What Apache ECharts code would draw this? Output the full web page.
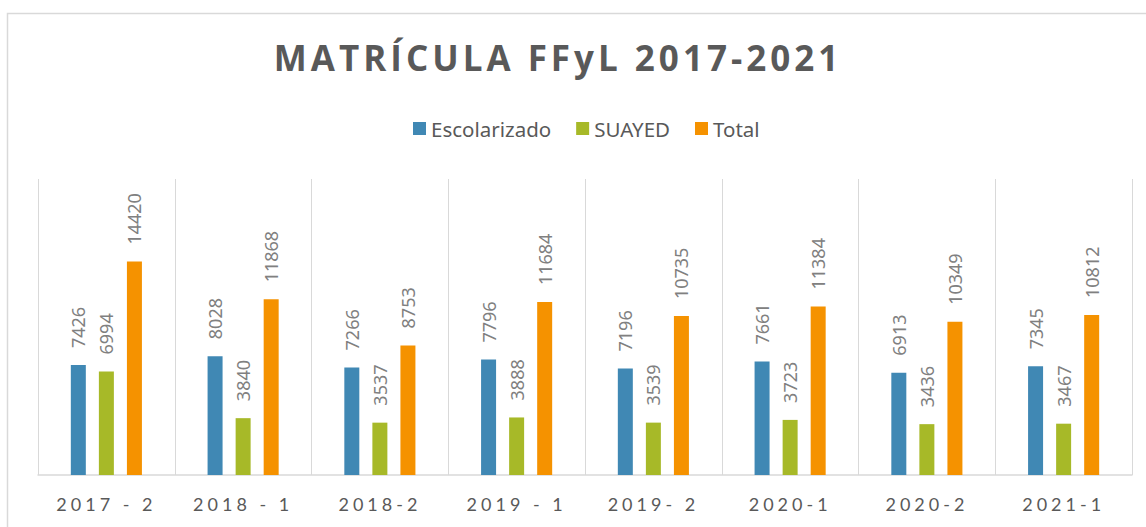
<!DOCTYPE html>
<html>
<head>
<meta charset="utf-8">
<script src="https://cdn.jsdelivr.net/npm/echarts@6/dist/echarts.min.js"></script>
<style>
  html, body { margin: 0; padding: 0; background: #fff; }
  #main { width: 1146px; height: 527px; }
  /* espaciado de letras como en Excel (titulo y etiquetas del eje) */
  #main text[style*="Open Sans"], #main text[font-family*="Open Sans"] { letter-spacing: 4px; }
  #main text[style*="Lato"], #main text[font-family*="Lato"] { letter-spacing: 4px; }
</style>
</head>
<body>
<div id="main"></div>
<script>
var periodos = ['2017 - 2', '2018 - 1', '2018-2', '2019 - 1', '2019- 2', '2020-1', '2020-2', '2021-1'];
var escolarizado = [7426, 8028, 7266, 7796, 7196, 7661, 6913, 7345];
var suayed = [6994, 3840, 3537, 3888, 3539, 3723, 3436, 3467];
var total = [14420, 11868, 8753, 11684, 10735, 11384, 10349, 10812];

var myChart = echarts.init(document.getElementById('main'), null, {renderer: 'svg'});

// etiqueta vertical encima de cada barra
var etiqueta = {
  show: true,
  position: 'top',
  rotate: 90,
  align: 'left',
  verticalAlign: 'middle',
  distance: 17,
  color: '#808080',
  fontFamily: 'Noto Sans',
  fontSize: 18
};

function serie(nombre, datos, color) {
  return {
    name: nombre,
    type: 'bar',
    data: datos,
    barWidth: 15,
    barGap: '87%',
    itemStyle: { color: color },
    label: etiqueta
  };
}

var option = {
  animation: false,
  title: {
    text: 'MATRÍCULA FFyL 2017-2021',
    left: 558,
    top: 40,
    textAlign: 'center',
    padding: 0,
    textStyle: {
      fontFamily: 'Open Sans',
      fontWeight: 'bold',
      fontSize: 35,
      color: '#595959'
    }
  },
  legend: {
    left: 413,
    top: 118,
    padding: 0,
    icon: 'rect',
    itemWidth: 13,
    itemHeight: 13,
    itemGap: 25,
    textStyle: {
      fontFamily: 'Noto Sans',
      fontSize: 20.5,
      color: '#595959'
    }
  },
  graphic: [{//marco del grafico
    type: 'rect',
    shape: { x: 7.5, y: 13.5, width: 1200, height: 600 },
    style: { fill: 'none', stroke: '#d9d9d9', lineWidth: 1.5 },
    silent: true
  }],
  grid: {
    left: 38,
    right: 14,
    top: 179,
    bottom: 52,
    outerBoundsMode: 'none'
  },
  xAxis: {
    type: 'category',
    data: periodos,
    axisTick: { show: false },
    axisLine: { lineStyle: { color: '#d9d9d9', width: 1.5 } },
    splitLine: { show: true, lineStyle: { color: '#d9d9d9', width: 1 } },
    axisLabel: {
      margin: 20,
      fontFamily: 'Lato',
      fontSize: 18,
      color: '#595959'
    }
  },
  yAxis: {
    type: 'value',
    min: 0,
    max: 20000,
    show: false
  },
  series: [
    serie('Escolarizado', escolarizado, '#4088B4'),
    serie('SUAYED', suayed, '#A7B928'),
    serie('Total', total, '#F59200')
  ]
};

myChart.setOption(option);
</script>
</body>
</html>
